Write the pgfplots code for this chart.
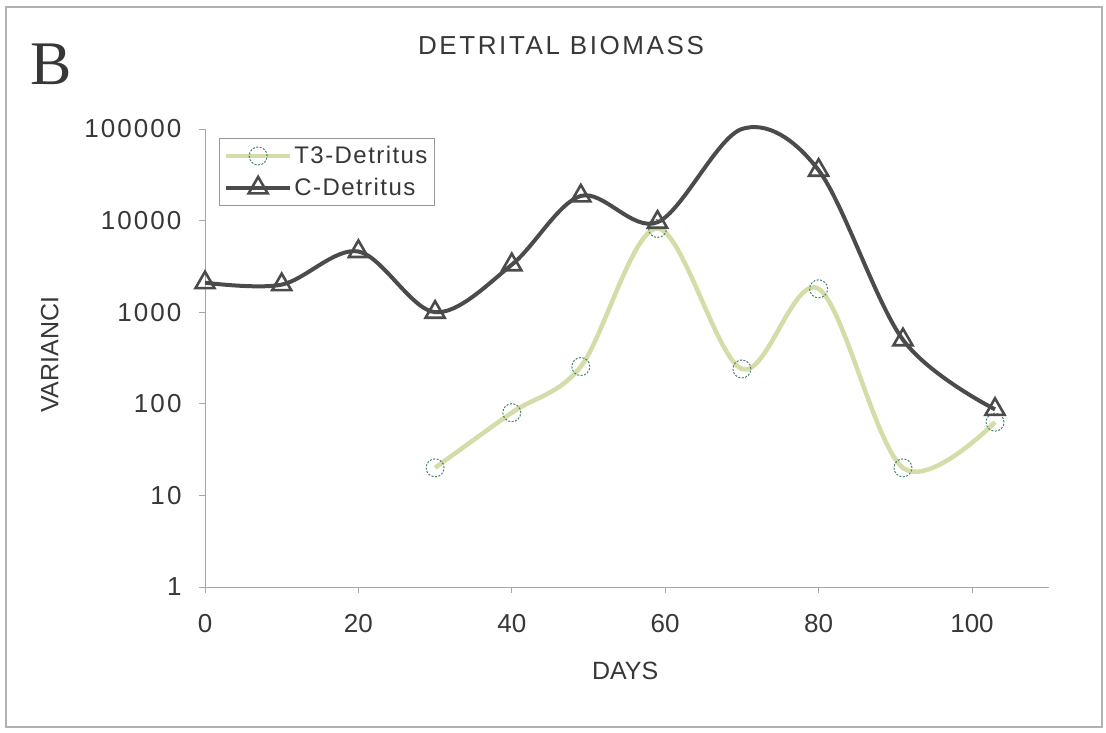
\documentclass[border=0pt]{standalone}
\usepackage{fontspec}
\setmainfont{Liberation Sans}
\newfontfamily\timesfont{Liberation Serif}
\newfontfamily\spacedfont[LetterSpace=10]{Liberation Sans}
\newfontfamily\legfont[LetterSpace=6]{Liberation Sans}
\newfontfamily\ytfont[LetterSpace=8]{Liberation Sans}
\usepackage{pgfplots}
\pgfplotsset{compat=1.18}
\definecolor{tgreen}{RGB}{212,220,168}
\definecolor{mgreen}{RGB}{70,130,105}
\definecolor{cgray}{RGB}{75,75,75}
\definecolor{txt}{RGB}{55,55,55}
\begin{document}
\begin{tikzpicture}[x=1pt,y=1pt]
\path[use as bounding box] (0,0) rectangle (1106,732);
\draw[gray!60, line width=1.2pt] (6,5) rectangle (1102,725);
\node[font=\timesfont\fontsize{62}{62}\selectfont, text=txt] at (51,668) {B};
\node[font=\spacedfont\fontsize{26}{30}\selectfont, text=txt] at (561,686) {DETRITAL BIOMASS};
\begin{axis}[
  at={(205pt,145pt)}, anchor=south west,
  scale only axis, width=843.7pt, height=458pt,
  xmin=0, xmax=110, ymin=1, ymax=100000, ymode=log,
  axis lines=left, axis line style={-, gray!70, line width=0.8pt},
  xtick={0,20,40,60,80,100},
  ytick={1,10,100,1000,10000,100000},
  yticklabels={1,10,100,1000,10000,100000},
  yminorticks=false,
  tick align=outside, major tick length=6pt,
  tick style={gray!70, line width=0.8pt},
  ticklabel style={text=txt},
  /pgf/number format/assume math mode=true,
  xticklabel style={yshift=-18pt, font=\fontsize{26}{30}\selectfont},
  yticklabel style={xshift=-14pt, font=\ytfont\fontsize{26}{30}\selectfont},
  xlabel={DAYS}, ylabel={VARIANCI},
  label style={font=\fontsize{25}{30}\selectfont, text=txt},
  xlabel style={at={(axis description cs:0.498,-0.183)}, anchor=center},
  ylabel style={at={(axis description cs:-0.184,0.507)}, anchor=center},
  legend style={at={(axis description cs:0.016,0.98)}, anchor=north west,
    font=\legfont\fontsize{24}{28}\selectfont, text=txt, draw=gray!80, line width=0.8pt,
    inner xsep=5pt, inner ysep=6pt, row sep=9pt, cells={anchor=west}},
  legend image code/.code={\draw[mark indices={2}] plot coordinates {(0pt,0pt) (32pt,0pt) (64pt,0pt)};},
  clip=false,
]
\addplot[color=tgreen, line width=4.5pt, smooth, tension=0.55,
  mark=o, mark size=9pt,
  mark options={draw=mgreen, line width=1pt, dash pattern=on 2pt off 1.5pt, fill=none}]
  coordinates {(30,20) (40,80) (49,255) (59,8200) (70,240) (80,1800) (91,20) (103,63)};
\addlegendentry{T3-Detritus}
\addplot[color=cgray, line width=4pt, smooth, tension=0.55,
  mark=triangle, mark size=11pt, mark indices={1,2,3,4,5,6,7,9,10,11},
  mark options={solid, draw=cgray, line width=2.6pt, fill=white}]
  coordinates {(0,2100) (10,2000) (20,4600) (30,1000) (40,3300) (49,18600) (59,9600) (70,100000) (80,35500) (91,500) (103,87)};
\addlegendentry{C-Detritus}
\end{axis}
\end{tikzpicture}
\end{document}
